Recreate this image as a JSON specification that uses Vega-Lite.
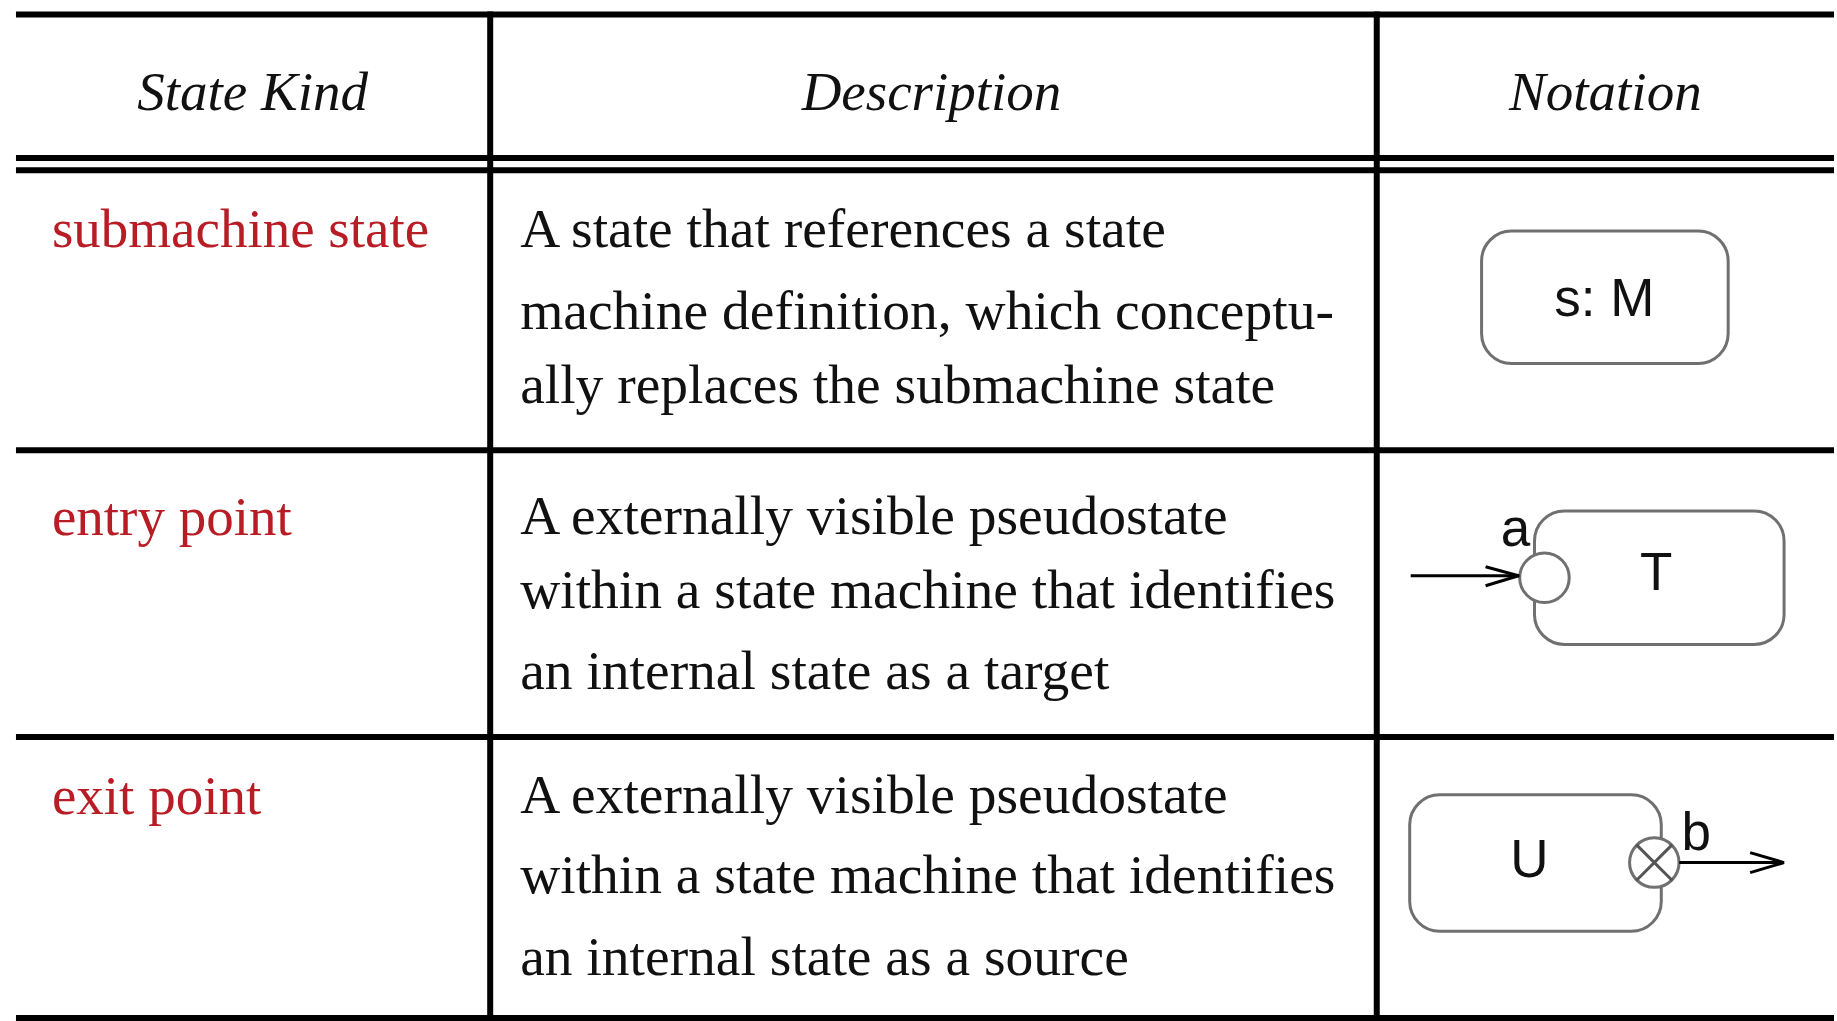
{
  "$schema": "https://vega.github.io/schema/vega-lite/v6.json",
  "width": 1837,
  "height": 1021,
  "autosize": {"type": "fit", "contains": "padding"},
  "padding": 0,
  "background": "white",
  "config": {"view": {"stroke": null}},
  "datasets": {
    "lines": [
      {"x": 16, "y": 14.5, "x2": 1837, "y2": 14.5},
      {"x": 16, "y": 158.5, "x2": 1837, "y2": 158.5},
      {"x": 16, "y": 171, "x2": 1837, "y2": 171},
      {"x": 16, "y": 452, "x2": 1837, "y2": 452},
      {"x": 16, "y": 740, "x2": 1837, "y2": 740},
      {"x": 16, "y": 1022, "x2": 1837, "y2": 1022},
      {"x": 491, "y": 11.5, "x2": 491, "y2": 1021},
      {"x": 1379, "y": 11.5, "x2": 1379, "y2": 1021}
    ],
    "headers": [
      {"x": 253, "y": 110, "t": "State Kind"},
      {"x": 933, "y": 110, "t": "Description"},
      {"x": 1608, "y": 110, "t": "Notation"}
    ],
    "kinds": [
      {"x": 52, "y": 248, "t": "submachine state"},
      {"x": 52, "y": 537, "t": "entry point"},
      {"x": 52, "y": 817, "t": "exit point"}
    ],
    "desc": [
      {"x": 521, "y": 248, "t": "A state that references a state"},
      {"x": 521, "y": 330, "t": "machine definition, which conceptu-"},
      {"x": 521, "y": 405, "t": "ally replaces the submachine state"},
      {"x": 521, "y": 536, "t": "A externally visible pseudostate"},
      {"x": 521, "y": 610, "t": "within a state machine that identifies"},
      {"x": 521, "y": 692, "t": "an internal state as a target"},
      {"x": 521, "y": 816, "t": "A externally visible pseudostate"},
      {"x": 521, "y": 897, "t": "within a state machine that identifies"},
      {"x": 521, "y": 979, "t": "an internal state as a source"}
    ],
    "boxes": [
      {"x": 1484, "y": 232, "x2": 1731, "y2": 365},
      {"x": 1537, "y": 513, "x2": 1787, "y2": 647},
      {"x": 1412, "y": 798, "x2": 1664, "y2": 935}
    ],
    "circles": [
      {"x": 1547, "y": 580},
      {"x": 1657, "y": 866}
    ],
    "cross": [
      {"x": 1639, "y": 848, "x2": 1675, "y2": 884},
      {"x": 1639, "y": 884, "x2": 1675, "y2": 848}
    ],
    "arrows": [
      {"x": 1413, "y": 578, "x2": 1522, "y2": 578},
      {"x": 1488, "y": 569, "x2": 1521, "y2": 578},
      {"x": 1488, "y": 588, "x2": 1521, "y2": 578},
      {"x": 1682, "y": 866, "x2": 1787, "y2": 866},
      {"x": 1753, "y": 856, "x2": 1787, "y2": 866},
      {"x": 1753, "y": 876, "x2": 1787, "y2": 866}
    ],
    "labels": [
      {"x": 1607, "y": 317, "t": "s: M"},
      {"x": 1659, "y": 592, "t": "T"},
      {"x": 1518, "y": 548, "t": "a"},
      {"x": 1532, "y": 880, "t": "U"},
      {"x": 1699, "y": 853, "t": "b"}
    ]
  },
  "layer": [
    {
      "data": {"name": "boxes"},
      "mark": {"type": "rect", "cornerRadius": 30, "fill": "white", "stroke": "#707070", "strokeWidth": 3},
      "encoding": {
        "x": {"field": "x", "type": "quantitative", "scale": {"domain": [0, 1837]}, "axis": null},
        "x2": {"field": "x2"},
        "y": {"field": "y", "type": "quantitative", "scale": {"domain": [0, 1021], "reverse": true}, "axis": null},
        "y2": {"field": "y2"}
      }
    },
    {
      "data": {"name": "circles"},
      "mark": {"type": "point", "shape": "circle", "size": 2450, "filled": false, "fill": "white", "fillOpacity": 1, "stroke": "#707070", "strokeWidth": 3, "opacity": 1},
      "encoding": {
        "x": {"field": "x", "type": "quantitative", "scale": {"domain": [0, 1837]}, "axis": null},
        "y": {"field": "y", "type": "quantitative", "scale": {"domain": [0, 1021], "reverse": true}, "axis": null}
      }
    },
    {
      "data": {"name": "cross"},
      "mark": {"type": "rule", "color": "#555555", "strokeWidth": 3},
      "encoding": {
        "x": {"field": "x", "type": "quantitative", "scale": {"domain": [0, 1837]}, "axis": null},
        "x2": {"field": "x2"},
        "y": {"field": "y", "type": "quantitative", "scale": {"domain": [0, 1021], "reverse": true}, "axis": null},
        "y2": {"field": "y2"}
      }
    },
    {
      "data": {"name": "arrows"},
      "mark": {"type": "rule", "color": "black", "strokeWidth": 3},
      "encoding": {
        "x": {"field": "x", "type": "quantitative", "scale": {"domain": [0, 1837]}, "axis": null},
        "x2": {"field": "x2"},
        "y": {"field": "y", "type": "quantitative", "scale": {"domain": [0, 1021], "reverse": true}, "axis": null},
        "y2": {"field": "y2"}
      }
    },
    {
      "data": {"name": "lines"},
      "mark": {"type": "rule", "color": "black", "strokeWidth": 6},
      "encoding": {
        "x": {"field": "x", "type": "quantitative", "scale": {"domain": [0, 1837]}, "axis": null},
        "x2": {"field": "x2"},
        "y": {"field": "y", "type": "quantitative", "scale": {"domain": [0, 1021], "reverse": true}, "axis": null},
        "y2": {"field": "y2"}
      }
    },
    {
      "data": {"name": "headers"},
      "mark": {"type": "text", "align": "center", "baseline": "alphabetic", "font": "Liberation Serif", "fontStyle": "italic", "fontSize": 55, "color": "#111111"},
      "encoding": {
        "x": {"field": "x", "type": "quantitative", "scale": {"domain": [0, 1837]}, "axis": null},
        "y": {"field": "y", "type": "quantitative", "scale": {"domain": [0, 1021], "reverse": true}, "axis": null},
        "text": {"field": "t"}
      }
    },
    {
      "data": {"name": "kinds"},
      "mark": {"type": "text", "align": "left", "baseline": "alphabetic", "font": "Liberation Serif", "fontSize": 55, "color": "#b81c24"},
      "encoding": {
        "x": {"field": "x", "type": "quantitative", "scale": {"domain": [0, 1837]}, "axis": null},
        "y": {"field": "y", "type": "quantitative", "scale": {"domain": [0, 1021], "reverse": true}, "axis": null},
        "text": {"field": "t"}
      }
    },
    {
      "data": {"name": "desc"},
      "mark": {"type": "text", "align": "left", "baseline": "alphabetic", "font": "Liberation Serif", "fontSize": 55.5, "color": "#111111"},
      "encoding": {
        "x": {"field": "x", "type": "quantitative", "scale": {"domain": [0, 1837]}, "axis": null},
        "y": {"field": "y", "type": "quantitative", "scale": {"domain": [0, 1021], "reverse": true}, "axis": null},
        "text": {"field": "t"}
      }
    },
    {
      "data": {"name": "labels"},
      "mark": {"type": "text", "align": "center", "baseline": "alphabetic", "font": "Liberation Sans Narrow, Liberation Sans, sans-serif", "fontSize": 53, "color": "#111111"},
      "encoding": {
        "x": {"field": "x", "type": "quantitative", "scale": {"domain": [0, 1837]}, "axis": null},
        "y": {"field": "y", "type": "quantitative", "scale": {"domain": [0, 1021], "reverse": true}, "axis": null},
        "text": {"field": "t"}
      }
    }
  ]
}
